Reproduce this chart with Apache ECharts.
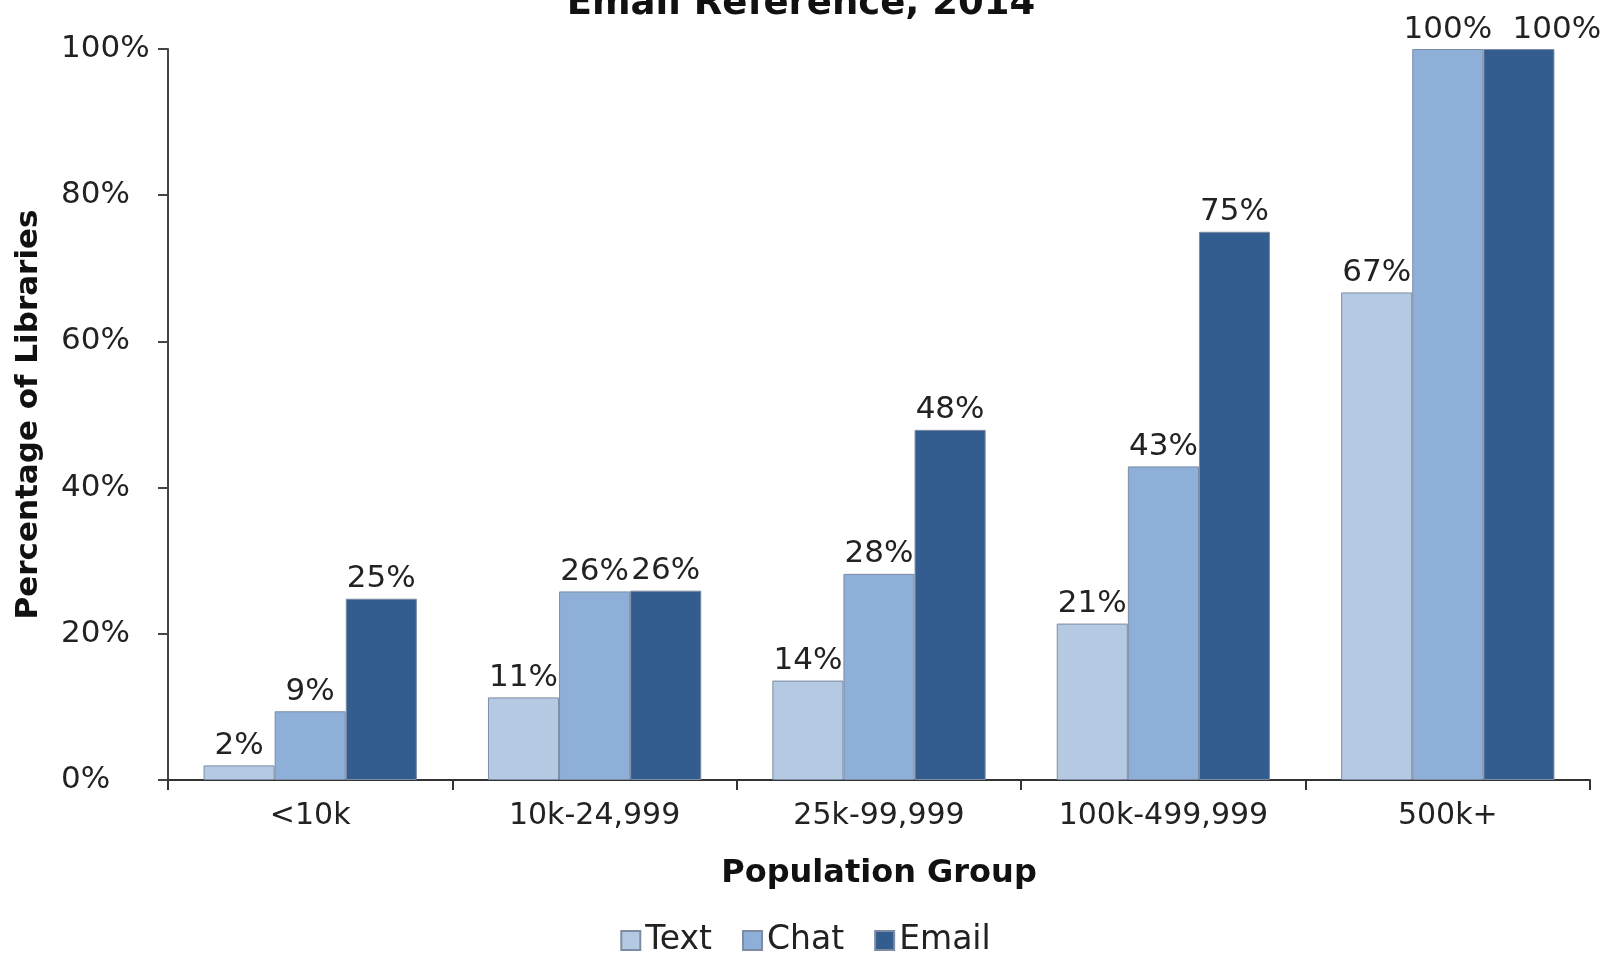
<!DOCTYPE html>
<html>
<head>
<meta charset="utf-8">
<title>Email Reference, 2014</title>
<script src="https://cdn.jsdelivr.net/npm/echarts@6/dist/echarts.min.js"></script>
<style>
  html, body { margin: 0; padding: 0; background: #fff; }
  #chart { width: 1611px; height: 956px; }
</style>
</head>
<body>
<div id="chart"></div>
<script>
  // population groups on the x axis
  var groups = ['<10k', '10k-24,999', '25k-99,999', '100k-499,999', '500k+'];
  // percentage of libraries
  var textValues = [2, 11.3, 13.6, 21.4, 66.7];
  var chatValues = [9.4, 25.8, 28.2, 42.9, 100];
  var emailValues = [24.8, 25.9, 47.9, 75, 100];
  var yTicks = [0, 20, 40, 60, 80, 100];

  var font = '"DejaVu Sans", sans-serif';

  function barSeries(name, data, color) {
    return {
      name: name,
      type: 'bar',
      data: data,
      barGap: '0%',
      barCategoryGap: '25%',
      itemStyle: {
        color: color,
        borderColor: '#7d8ca3',
        borderWidth: 1
      },
      label: {
        show: true,
        position: 'top',
        distance: 4,
        color: '#222',
        fontFamily: font,
        fontSize: 31,
        formatter: function (p) { return Math.round(p.value) + '%' }
      }
    }
  }

  var email = barSeries('Email', emailValues, '#345d8f');
  // last 100% label is nudged right so it doesn't run into its neighbour
  email.labelLayout = function (p) {
    return p.dataIndex === groups.length - 1 ? {dx: 38} : {};
  };

  var chart = echarts.init(document.getElementById('chart'));
  chart.setOption({
    animation: false,
    title: {
      text: 'Email Reference, 2014',
      left: 796,
      textAlign: 'center',
      top: -19,
      textStyle: { fontFamily: font, fontSize: 37, fontWeight: 'bold', color: '#111' }
    },
    legend: {
      data: ['Text', 'Chat', 'Email'],
      left: 'center',
      bottom: -6,
      itemWidth: 19,
      itemHeight: 19,
      itemGap: 30,
      icon: 'rect',
      textStyle: { fontFamily: font, fontSize: 33, color: '#222' }
    },
    grid: {
      left: 168,
      right: 21,
      top: 49,
      bottom: 176
    },
    xAxis: {
      type: 'category',
      data: groups,
      name: 'Population Group',
      nameLocation: 'middle',
      nameGap: 78,
      nameTextStyle: { fontFamily: font, fontSize: 32, fontWeight: 'bold', color: '#111' },
      axisLine: { lineStyle: { color: '#333', width: 2 } },
      axisTick: { show: true, length: 10, lineStyle: { color: '#333', width: 2 } },
      axisLabel: { fontFamily: font, fontSize: 30, color: '#222', margin: 21 }
    },
    yAxis: {
      type: 'value',
      min: yTicks[0],
      max: yTicks[yTicks.length - 1],
      interval: 20,
      name: 'Percentage of Libraries',
      nameLocation: 'middle',
      nameGap: 124,
      nameTextStyle: { fontFamily: font, fontSize: 31, fontWeight: 'bold', color: '#111' },
      axisLine: { show: true, lineStyle: { color: '#444', width: 2 } },
      axisTick: { show: true, length: 10, lineStyle: { color: '#444', width: 2 } },
      splitLine: { show: false },
      axisLabel: {
        fontFamily: font,
        fontSize: 31,
        color: '#222',
        align: 'left',
        margin: 107,
        formatter: '{value}%'
      }
    },
    series: [
      barSeries('Text', textValues, '#b4c9e2'),
      barSeries('Chat', chatValues, '#8eafd7'),
      email
    ]
  });
</script>
</body>
</html>
